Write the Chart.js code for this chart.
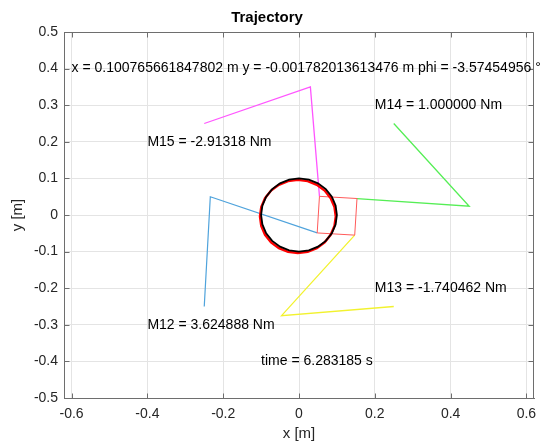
<!DOCTYPE html>
<html><head><meta charset="utf-8">
<script src="https://cdn.jsdelivr.net/npm/chart.js@4/dist/chart.umd.min.js"></script>
<style>html,body{margin:0;padding:0;background:#fff;}#wrap{width:558px;height:443px;}</style>
</head><body><div id="wrap"><canvas id="c" width="558" height="443"></canvas></div>
<script>
// ---- data ----
const xTicks = [-0.6, -0.4, -0.2, 0, 0.2, 0.4, 0.6];
const yTicks = [-0.5, -0.4, -0.3, -0.2, -0.1, 0, 0.1, 0.2, 0.3, 0.4, 0.5];

const refCircle = [
  [0.1,0],[0.0966,0.0259],[0.0866,0.05],[0.0707,0.0707],[0.05,0.0866],[0.0259,0.0966],
  [0,0.1],[-0.0259,0.0966],[-0.05,0.0866],[-0.0707,0.0707],[-0.0866,0.05],[-0.0966,0.0259],
  [-0.1,0],[-0.0966,-0.0259],[-0.0866,-0.05],[-0.0707,-0.0707],[-0.05,-0.0866],[-0.0259,-0.0966],
  [0,-0.1],[0.0259,-0.0966],[0.05,-0.0866],[0.0707,-0.0707],[0.0866,-0.05],[0.0966,-0.0259],[0.1,0]
];
const trajCircle = [
  [0.097,-0.004],[0.0936,0.0219],[0.0836,0.046],[0.0677,0.0667],[0.047,0.0826],[0.0229,0.0926],
  [-0.003,0.096],[-0.0289,0.0926],[-0.053,0.0826],[-0.0737,0.0667],[-0.0896,0.046],[-0.0996,0.0219],
  [-0.103,-0.004],[-0.0996,-0.0299],[-0.0896,-0.054],[-0.0737,-0.0747],[-0.053,-0.0906],[-0.0289,-0.1006],
  [-0.003,-0.104],[0.0229,-0.1006],[0.047,-0.0906],[0.0677,-0.0747],[0.0836,-0.054],[0.0936,-0.0299],[0.097,-0.004]
];
const platform = [[0.054,0.051],[0.153,0.045],[0.147,-0.055],[0.048,-0.049],[0.054,0.051]];
const legBlue    = [[-0.25,-0.25],[-0.234,0.05],[0.048,-0.049]];
const legMagenta = [[-0.25,0.25],[0.03,0.35],[0.054,0.051]];
const legGreen   = [[0.25,0.25],[0.449,0.024],[0.153,0.045]];
const legYellow  = [[0.25,-0.25],[-0.046,-0.275],[0.147,-0.055]];

const annotTexts = [
  'x = 0.100765661847802 m y = -0.001782013613476 m phi = -3.57454956 °',
  'M14 = 1.000000 Nm',
  'M15 = -2.91318 Nm',
  'M12 = 3.624888 Nm',
  'M13 = -1.740462 Nm',
  'time = 6.283185 s'
];
const annotX = [-0.6, 0.2, -0.4, -0.4, 0.2, -0.1];
const annotY = [0.4, 0.3, 0.2, -0.3, -0.2, -0.4];

// ---- chart ----
const FONT = '"Liberation Sans", Arial, Helvetica, sans-serif';
const toPts = arr => arr.map(p => ({x: p[0], y: p[1]}));
const fmt = v => (Math.abs(v) < 1e-9 ? '0' : String(Math.round(v * 10) / 10));

function ds(data, color, width) {
  return {data: toPts(data), showLine: true, borderColor: color, backgroundColor: color,
          borderWidth: width, pointRadius: 0, pointHoverRadius: 0, fill: false, tension: 0};
}

const boxPlugin = {
  id: 'boxAndText',
  afterDraw(chart) {
    const {ctx, chartArea: a, scales: {x, y}} = chart;
    ctx.save();
    ctx.strokeStyle = '#6e6e6e';
    ctx.lineWidth = 1;
    const L = a.left + 0.5, R = a.right - 0.5, T = a.top + 0.5, B = a.bottom + 0.5;
    ctx.beginPath();
    ctx.moveTo(L, T); ctx.lineTo(R, T); ctx.lineTo(R, B); ctx.lineTo(L, B); ctx.closePath();
    const tl = 5;
    xTicks.forEach(v => {
      const px = Math.round(x.getPixelForValue(v)) + 0.5;
      ctx.moveTo(px, B); ctx.lineTo(px, B - tl);
      ctx.moveTo(px, T); ctx.lineTo(px, T + tl);
    });
    yTicks.forEach(v => {
      const py = Math.round(y.getPixelForValue(v)) + 0.5;
      ctx.moveTo(L, py); ctx.lineTo(L + tl, py);
      ctx.moveTo(R, py); ctx.lineTo(R - tl, py);
    });
    ctx.stroke();
    ctx.fillStyle = '#000';
    ctx.font = '14px ' + FONT;
    ctx.textAlign = 'left';
    ctx.textBaseline = 'middle';
    annotTexts.forEach((t, i) => {
      ctx.fillText(t, x.getPixelForValue(annotX[i]), y.getPixelForValue(annotY[i]));
    });
    ctx.restore();
  }
};

new Chart(document.getElementById('c'), {
  type: 'scatter',
  data: {
    datasets: [
      ds(refCircle, '#000000', 1.8),
      ds(trajCircle, '#ff0000', 2.4),
      ds(platform, '#ff5a5a', 1),
      ds(legBlue, '#4fa3dc', 1.2),
      ds(legMagenta, '#ff55ff', 1.3),
      ds(legGreen, '#55ee55', 1.3),
      ds(legYellow, '#f2f22e', 1.3)
    ]
  },
  options: {
    responsive: false,
    animation: false,
    devicePixelRatio: 1,
    layout: {padding: {left: 0, right: 24, top: 0, bottom: 0}},
    plugins: {
      legend: {display: false},
      tooltip: {enabled: false},
      title: {display: true, text: 'Trajectory', color: '#000',
              font: {family: FONT, size: 15, weight: 'bold'}, padding: {top: 9, bottom: 5}}
    },
    scales: {
      x: {
        type: 'linear', min: -0.62, max: 0.62,
        afterBuildTicks: s => { s.ticks = xTicks.map(v => ({value: v})); },
        afterFit: s => { s.height = 45; },
        ticks: {callback: v => fmt(v), color: '#262626', font: {family: FONT, size: 14},
                padding: 8, maxRotation: 0, autoSkip: false},
        grid: {color: '#e4e4e4', drawTicks: false},
        border: {color: '#6e6e6e', width: 1},
        title: {display: true, text: 'x [m]', color: '#262626',
                font: {family: FONT, size: 15}, padding: {top: 0, bottom: 0}}
      },
      y: {
        type: 'linear', min: -0.5, max: 0.5,
        afterBuildTicks: s => { s.ticks = yTicks.map(v => ({value: v})); },
        afterFit: s => { s.width = 64; },
        ticks: {callback: v => fmt(v), color: '#262626', font: {family: FONT, size: 14},
                padding: 6, autoSkip: false},
        grid: {color: '#e4e4e4', drawTicks: false},
        border: {color: '#6e6e6e', width: 1},
        title: {display: true, text: 'y [m]', color: '#262626',
                font: {family: FONT, size: 15}, padding: {top: 9, bottom: 0}}
      }
    }
  },
  plugins: [boxPlugin]
});
</script></body></html>
